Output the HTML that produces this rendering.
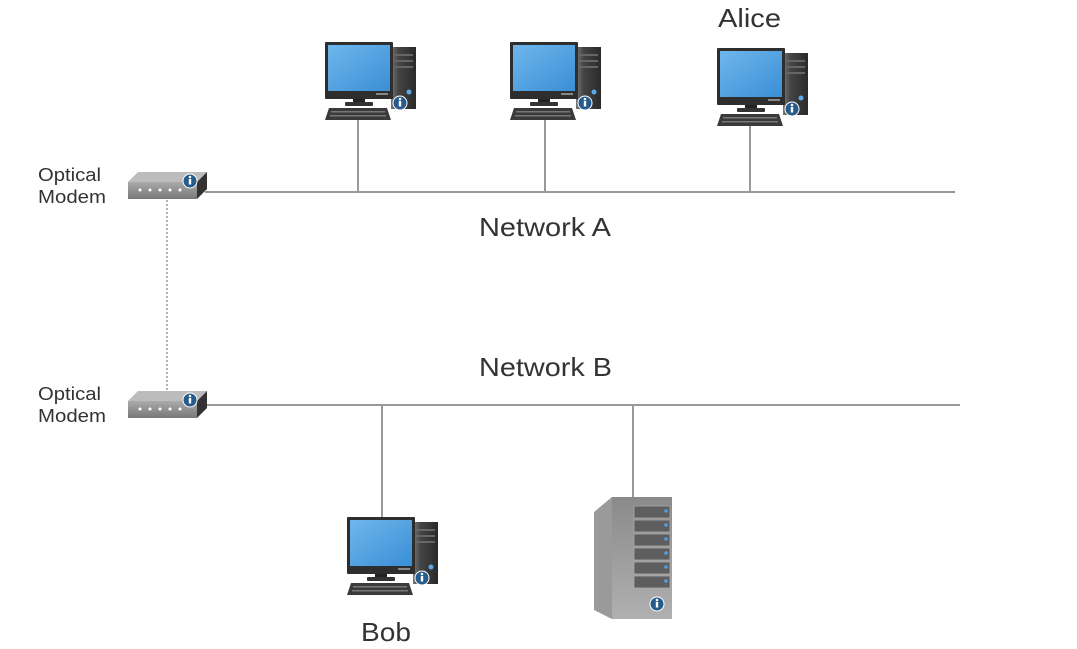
<!DOCTYPE html>
<html><head><style>
html,body{margin:0;padding:0;background:#fff;}
svg{display:block;}
text{font-family:"Liberation Sans",Arial,sans-serif;fill:#333;}
</style></head><body>
<svg width="1077" height="649" viewBox="0 0 1077 649" xmlns="http://www.w3.org/2000/svg">
<defs>
<linearGradient id="scr" x1="0" y1="0" x2="1" y2="1"><stop offset="0" stop-color="#6fb6ec"/><stop offset="1" stop-color="#3a8fd6"/></linearGradient>
<linearGradient id="tow" x1="0" y1="0" x2="1" y2="0"><stop offset="0" stop-color="#777"/><stop offset="0.3" stop-color="#444"/><stop offset="1" stop-color="#2a2a2a"/></linearGradient>
<linearGradient id="srv" x1="0" y1="0" x2="0" y2="1"><stop offset="0" stop-color="#8a8a8a"/><stop offset="1" stop-color="#b0b0b0"/></linearGradient>
<linearGradient id="mod" x1="0" y1="0" x2="0" y2="1"><stop offset="0" stop-color="#aaa"/><stop offset="1" stop-color="#777"/></linearGradient>
<g id="info"><circle r="7" fill="#275b8c" stroke="#fff" stroke-width="1"/><rect x="-1.2" y="-2" width="2.4" height="5.5" fill="#fff"/><circle cx="0" cy="-4" r="1.3" fill="#fff"/></g>
<g id="pc">
  <rect x="66" y="5" width="25" height="62" fill="url(#tow)"/>
  <rect x="68" y="12" width="20" height="2" fill="#666"/><rect x="68" y="18" width="20" height="2" fill="#666"/><rect x="68" y="24" width="20" height="2" fill="#666"/>
  <circle cx="84" cy="50" r="2.5" fill="#5aa8e8"/>
  <rect x="0" y="0" width="68" height="57" rx="1" fill="#2e2e2e"/>
  <rect x="3" y="3" width="62" height="46" fill="url(#scr)"/>
  <rect x="51" y="51" width="12" height="2" fill="#888"/>
  <rect x="28" y="57" width="12" height="4" fill="#222"/>
  <rect x="20" y="60" width="28" height="4" rx="1" fill="#333"/>
  <polygon points="4,66 62,66 66,78 0,78" fill="#3a3a3a"/>
  <rect x="6" y="69" width="54" height="1.5" fill="#777"/><rect x="5" y="73" width="56" height="1.5" fill="#777"/>
  <use href="#info" x="75" y="61"/>
</g>
<g id="modem">
  <polygon points="0,10 10,0 79,0 69,10" fill="#bcbcbc"/>
  <polygon points="69,10 79,0 79,17 69,27" fill="#333"/>
  <rect x="0" y="10" width="69" height="17" fill="url(#mod)"/>
  <circle cx="12" cy="18" r="1.5" fill="#fff"/><circle cx="22" cy="18" r="1.5" fill="#fff"/><circle cx="32" cy="18" r="1.5" fill="#fff"/><circle cx="42" cy="18" r="1.5" fill="#fff"/><circle cx="52" cy="18" r="1.5" fill="#fff"/>
  <use href="#info" x="62" y="9"/>
</g>
</defs>

<g stroke="#999" stroke-width="2" fill="none">
<line x1="205" y1="192" x2="955" y2="192"/>
<line x1="358" y1="120" x2="358" y2="192"/>
<line x1="545" y1="120" x2="545" y2="192"/>
<line x1="750" y1="125" x2="750" y2="192"/>
<line x1="205" y1="405" x2="960" y2="405"/>
<line x1="382" y1="405" x2="382" y2="517"/>
<line x1="633" y1="405" x2="633" y2="497"/>
</g>
<line x1="167" y1="200" x2="167" y2="392" stroke="#999" stroke-width="1.5" stroke-dasharray="2,2"/>

<use href="#pc" x="325" y="42"/>
<use href="#pc" x="510" y="42"/>
<use href="#pc" x="717" y="48"/>
<use href="#pc" x="347" y="517"/>

<use href="#modem" x="128" y="172"/>
<use href="#modem" x="128" y="391"/>

<g>
<polygon points="594,512 612,497 612,619 594,610" fill="#9a9a9a"/>
<rect x="612" y="497" width="60" height="122" fill="url(#srv)"/>
<g fill="#5e5e5e" stroke="#aaa" stroke-width="0.8">
<rect x="634" y="506" width="36" height="12"/><rect x="634" y="520" width="36" height="12"/><rect x="634" y="534" width="36" height="12"/><rect x="634" y="548" width="36" height="12"/><rect x="634" y="562" width="36" height="12"/><rect x="634" y="576" width="36" height="12"/>
</g>
<g fill="#4aa0ec"><circle cx="666" cy="511" r="1.8"/><circle cx="666" cy="525" r="1.8"/><circle cx="666" cy="539" r="1.8"/><circle cx="666" cy="553" r="1.8"/><circle cx="666" cy="567" r="1.8"/><circle cx="666" cy="581" r="1.8"/></g>
<use href="#info" x="657" y="604"/>
</g>

<text x="38" y="181" font-size="18" textLength="63" lengthAdjust="spacingAndGlyphs">Optical</text>
<text x="38" y="203" font-size="18" textLength="68" lengthAdjust="spacingAndGlyphs">Modem</text>
<text x="38" y="400" font-size="18" textLength="63" lengthAdjust="spacingAndGlyphs">Optical</text>
<text x="38" y="422" font-size="18" textLength="68" lengthAdjust="spacingAndGlyphs">Modem</text>
<text x="479" y="236" font-size="26" textLength="132" lengthAdjust="spacingAndGlyphs">Network A</text>
<text x="479" y="376" font-size="26" textLength="133" lengthAdjust="spacingAndGlyphs">Network B</text>
<text x="718" y="27" font-size="26" textLength="63" lengthAdjust="spacingAndGlyphs">Alice</text>
<text x="361" y="641" font-size="26" textLength="50" lengthAdjust="spacingAndGlyphs">Bob</text>
</svg>
</body></html>
